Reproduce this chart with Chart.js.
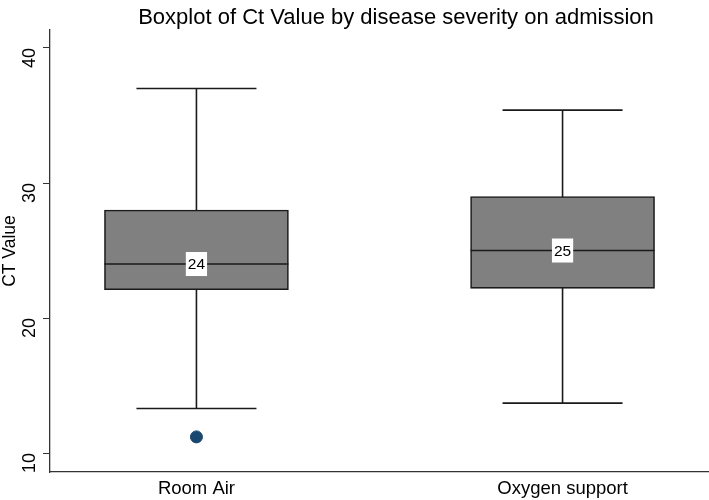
<!DOCTYPE html>
<html lang="en">
<head>
    <meta charset="UTF-8">
    <title>Boxplot of Ct Value</title>
    <script src="https://cdn.jsdelivr.net/npm/chart.js"></script>
    <style>
        body { margin: 0; background: #fff; }
        .wrap { width: 709px; height: 500px; }
    </style>
</head>
<body>
    <div class="wrap"><canvas id="boxChart"></canvas></div>
    <script>
        // Data
        const categories = ['Room Air', 'Oxygen support'];
        const q1 = [22.1, 22.2];
        const median = [24, 25];
        const q3 = [28, 29];
        const whiskerLow = [13.3, 13.7];
        const whiskerHigh = [37, 35.4];
        const outliers = [[11.2], []];
        const yTicks = [10, 20, 30, 40];

        const font = 'Liberation Sans, Arial, sans-serif';

        // whiskers + caps behind the boxes, median line and label on top
        const boxExtras = {
            id: 'boxExtras',
            beforeDatasetsDraw(chart) {
                const { ctx, scales: { x, y } } = chart;
                ctx.save();
                ctx.strokeStyle = '#1a1a1a';
                ctx.lineWidth = 1.6;
                categories.forEach((c, i) => {
                    const px = x.getPixelForValue(i + 1);
                    const lo = y.getPixelForValue(whiskerLow[i]);
                    const hi = y.getPixelForValue(whiskerHigh[i]);
                    ctx.beginPath();
                    ctx.moveTo(px, lo); ctx.lineTo(px, hi);
                    ctx.moveTo(px - 60, lo); ctx.lineTo(px + 60, lo);
                    ctx.moveTo(px - 60, hi); ctx.lineTo(px + 60, hi);
                    ctx.stroke();
                });
                ctx.restore();
            },
            afterDatasetsDraw(chart) {
                const { ctx, scales: { x, y } } = chart;
                ctx.save();
                categories.forEach((c, i) => {
                    const px = x.getPixelForValue(i + 1);
                    const py = y.getPixelForValue(median[i]);
                    ctx.strokeStyle = '#1a1a1a';
                    ctx.lineWidth = 1.6;
                    ctx.beginPath();
                    ctx.moveTo(px - 92, py); ctx.lineTo(px + 92, py);
                    ctx.stroke();
                    ctx.font = '15.5px ' + font;
                    const txt = String(median[i]);
                    const w = ctx.measureText(txt).width;
                    ctx.fillStyle = '#fff';
                    ctx.fillRect(px - w / 2 - 2, py - 12, w + 4, 24);
                    ctx.fillStyle = '#000';
                    ctx.textAlign = 'center';
                    ctx.textBaseline = 'middle';
                    ctx.fillText(txt, px, py + 1);
                });
                ctx.restore();
            },
            afterDraw(chart) {
                const ctx = chart.ctx;
                ctx.save();
                ctx.font = '22px ' + font;
                ctx.fillStyle = '#000';
                ctx.textAlign = 'center';
                ctx.textBaseline = 'alphabetic';
                ctx.fillText('Boxplot of Ct Value by disease severity on admission', 396, 24);
                ctx.restore();
            }
        };

        new Chart(document.getElementById('boxChart'), {
            data: {
                datasets: [{
                    type: 'bar',
                    data: categories.map((c, i) => ({ x: i + 1, y: [q1[i], q3[i]] })),
                    backgroundColor: '#808080',
                    borderColor: '#1a1a1a',
                    borderWidth: 1.6,
                    borderSkipped: false,
                    barThickness: 184
                }, {
                    type: 'scatter',
                    data: outliers.flatMap((arr, i) => arr.map(v => ({ x: i + 1, y: v }))),
                    backgroundColor: '#1a476f',
                    borderColor: '#1a476f',
                    pointRadius: 6
                }]
            },
            options: {
                responsive: true,
                maintainAspectRatio: false,
                animation: false,
                layout: { autoPadding: false, padding: { top: 30, right: 0 } },
                plugins: {
                    legend: { display: false },
                    tooltip: { enabled: false }
                },
                scales: {
                    x: {
                        type: 'linear',
                        offset: false,
                        min: 0.6,
                        max: 2.4,
                        afterBuildTicks: s => { s.ticks = categories.map((c, i) => ({ value: i + 1 })); },
                        afterFit: s => { s.height = 28; s.paddingLeft = 0; s.paddingRight = 0; },
                        grid: { display: false, drawTicks: false, offset: false },
                        border: { display: true, color: '#333', width: 1.3 },
                        ticks: {
                            callback: v => categories[v - 1],
                            color: '#000',
                            font: { family: font, size: 18.5 },
                            padding: 6,
                            maxRotation: 0
                        }
                    },
                    y: {
                        min: 8.6,
                        max: 41.33,
                        afterBuildTicks: s => { s.ticks = yTicks.map(v => ({ value: v })); },
                        afterFit: s => { s.width = 50; },
                        grid: { drawOnChartArea: false, drawTicks: true, tickLength: 7, color: '#333' },
                        border: { display: true, color: '#333', width: 1.3 },
                        title: { display: true, text: 'CT Value', color: '#000', font: { family: font, size: 17.5 }, padding: 0 },
                        ticks: {
                            color: '#000',
                            font: { family: font, size: 18 },
                            minRotation: 90,
                            maxRotation: 90,
                            padding: 13
                        }
                    }
                }
            },
            plugins: [boxExtras]
        });
    </script>
</body>
</html>
